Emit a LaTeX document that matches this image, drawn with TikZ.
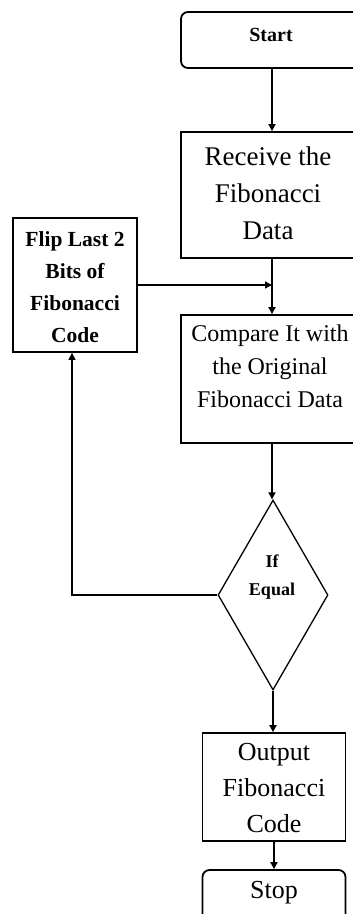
\documentclass[tikz,border=0pt]{standalone}
\usepackage{fontspec}
\setmainfont{Liberation Serif}
\usetikzlibrary{shapes.geometric,arrows.meta}
\begin{document}
\begin{tikzpicture}[x=1pt,y=1pt,
 box/.style={draw, line width=1.8pt, inner sep=0pt, align=center},
 term/.style={box, rounded corners=7pt},
 arr/.style={line width=1.8pt, -{Triangle[length=7pt,width=7pt]}},
 thinarr/.style={line width=1.3pt, -{Triangle[length=7pt,width=7pt]}},
 txt/.style={align=center, inner sep=0pt},
 dtxt/.style={inner sep=0pt, anchor=base, font=\bfseries\fontsize{18}{22}\selectfont}]
\clip (0,0) rectangle (353,-914);
\fill[white] (0,0) rectangle (353,-914);
% nodes
\node[term, minimum width=182, minimum height=56] (start) at (272,-40) {};
\node[txt, font=\bfseries\fontsize{20}{24}\selectfont] (starttxt) at (271,-35) {Start};
\node[box, minimum width=182, minimum height=126] (rcv) at (272,-195) {};
\node[txt, font=\fontsize{27}{37}\selectfont] (rcvtxt) at (268,-193) {Receive the\\Fibonacci\\Data};
\node[box, minimum width=124, minimum height=134] (flip) at (75,-285) {};
\node[txt, font=\bfseries\fontsize{21.5}{32}\selectfont] (fliptxt) at (75,-287) {Flip Last 2\\Bits of\\Fibonacci\\Code};
\node[box, minimum width=182, minimum height=128] (cmp) at (272,-379) {};
\node[txt, font=\fontsize{24}{33}\selectfont] (cmptxt) at (270,-366) {Compare It with\\the Original\\Fibonacci Data};
\node[draw, diamond, line width=1.3pt, minimum width=110, minimum height=190, inner sep=0pt] (dia) at (273,-595) {};
\node[dtxt] (diatxt1) at (272,-567) {If};
\node[dtxt] (diatxt2) at (272,-595) {Equal};
\node[box, minimum width=143, minimum height=108] (out) at (274,-787) {};
\node[txt, font=\fontsize{26}{36}\selectfont] (outtxt) at (274,-788) {Output\\Fibonacci\\Code};
\node[term, minimum width=143, minimum height=56] (stop) at (274,-898) {};
\node[txt, font=\fontsize{26}{30}\selectfont] (stoptxt) at (274,-893) {Stop};
% connectors
\draw[arr] (start) -- (rcv);
\draw[arr] (rcv) -- (cmp);
\coordinate (join) at (flip.east -| rcv.south);
\draw[thinarr] (flip.east) -- (join);
\draw[arr] (cmp.south) -- (cmp.south |- dia.north);
\draw[thinarr] (dia.west) -| ([xshift=-3pt]flip.south);
\draw[arr] (dia.south) -- (dia.south |- out.north);
\draw[arr] (out) -- (stop);
\end{tikzpicture}
\end{document}
